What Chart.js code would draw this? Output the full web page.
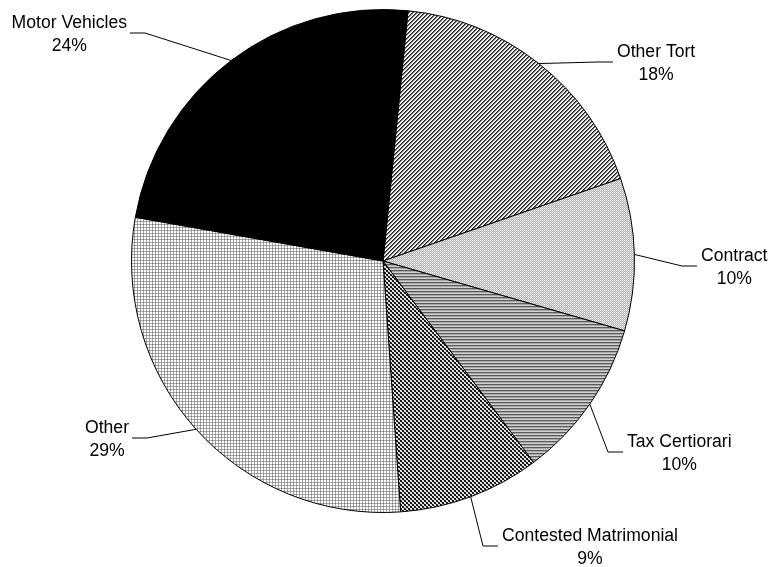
<!DOCTYPE html>
<html>
<head>
<meta charset="utf-8">
<script src="https://cdn.jsdelivr.net/npm/chart.js@4/dist/chart.umd.min.js"></script>
<style>
html,body{margin:0;padding:0;background:#fff;}
#wrap{width:771px;height:567px;}
</style>
</head>
<body>
<div id="wrap"><canvas id="c" width="771" height="567"></canvas></div>
<script>
// ---- data ----
const categories = ['Other Tort', 'Contract', 'Tax Certiorari', 'Contested Matrimonial', 'Other', 'Motor Vehicles'];
const values = [18.1, 9.8, 10.3, 9.1, 28.9, 23.8];
const percentLabels = ['18%', '10%', '10%', '9%', '29%', '24%'];

// ---- label layout (leader end point and side) ----
const labelLayout = [
  {end: [613, 62], side: 'right'},
  {end: [697, 266], side: 'right'},
  {end: [623, 452], side: 'right'},
  {end: [498, 546], side: 'right'},
  {end: [132, 438], side: 'left'},
  {end: [130, 33], side: 'left'}
];

function makePattern(w, h, fn) {
  const cv = document.createElement('canvas');
  cv.width = w; cv.height = h;
  const cx = cv.getContext('2d');
  for (let y = 0; y < h; y++) {
    for (let x = 0; x < w; x++) {
      cx.fillStyle = fn(x, y);
      cx.fillRect(x, y, 1, 1);
    }
  }
  return cx.createPattern(cv, 'repeat');
}

const ctx = document.getElementById('c').getContext('2d');

const pOtherTort = makePattern(4, 4, (x, y) => {
  const k = (x + y) % 4;
  return k === 0 ? '#202020' : (k === 1 ? '#707070' : (k === 2 ? '#e0e0e0' : '#ffffff'));
});
const pContract = makePattern(4, 4, (x, y) => {
  if ((x % 2 === 0) && (y % 2 === 0)) return '#ffffff';
  if ((x + y) % 2 === 1) return '#b0b0b0';
  return '#d8d8d8';
});
const pTax = makePattern(1, 3, (x, y) => ['#5a5a5a', '#a8a8a8', '#d0d0d0'][y]);
const pMatrimonial = makePattern(4, 4, (x, y) => {
  const c = (Math.floor(x / 2) + Math.floor(y / 2)) % 2;
  if (c === 0) return (x + y) % 2 === 0 ? '#000000' : '#303030';
  return (x + y) % 2 === 0 ? '#ffffff' : '#c0c0c0';
});
const pOther = makePattern(3, 3, (x, y) => {
  if (y === 2 && x === 2) return '#808080';
  if (y === 2 || x === 2) return '#a8a8a8';
  return '#ffffff';
});

const fills = [pOtherTort, pContract, pTax, pMatrimonial, pOther, '#000000'];

const FONT = '17.6px "Liberation Sans", Arial, sans-serif';

const labelPlugin = {
  id: 'leaderLabels',
  afterDraw(chart) {
    const c = chart.ctx;
    const meta = chart.getDatasetMeta(0);
    c.save();
    c.font = FONT;
    c.fillStyle = '#000';
    c.strokeStyle = '#000';
    c.lineWidth = 1;
    meta.data.forEach((arc, i) => {
      const p = arc.getProps(['x', 'y', 'startAngle', 'endAngle', 'outerRadius'], true);
      const mid = (p.startAngle + p.endAngle) / 2;
      const sx = p.x + Math.cos(mid) * p.outerRadius;
      const sy = p.y + Math.sin(mid) * p.outerRadius;
      const L = labelLayout[i];
      const ex = L.end[0], ey = L.end[1];
      const elx = L.side === 'right' ? ex - 15 : ex + 15;
      c.beginPath();
      c.moveTo(sx, sy);
      c.lineTo(elx, ey);
      c.lineTo(ex, ey);
      c.stroke();
      const l1 = categories[i], l2 = percentLabels[i];
      const w = Math.max(c.measureText(l1).width, c.measureText(l2).width);
      const cxm = L.side === 'right' ? ex + 4 + w / 2 : ex - 3 - w / 2;
      c.textAlign = 'center';
      c.textBaseline = 'alphabetic';
      c.fillText(l1, cxm, ey - 5);
      c.fillText(l2, cxm, ey + 18);
    });
    c.restore();
  }
};

new Chart(ctx, {
  type: 'pie',
  data: {
    labels: categories,
    datasets: [{
      data: values,
      backgroundColor: fills,
      borderColor: '#000000',
      borderWidth: 1,
      hoverOffset: 0
    }]
  },
  options: {
    responsive: false,
    animation: false,
    rotation: 5.7,
    layout: {padding: {top: 9, bottom: 54, left: 0, right: 5}},
    plugins: {
      legend: {display: false},
      tooltip: {enabled: false}
    }
  },
  plugins: [labelPlugin]
});
</script>
</body>
</html>
